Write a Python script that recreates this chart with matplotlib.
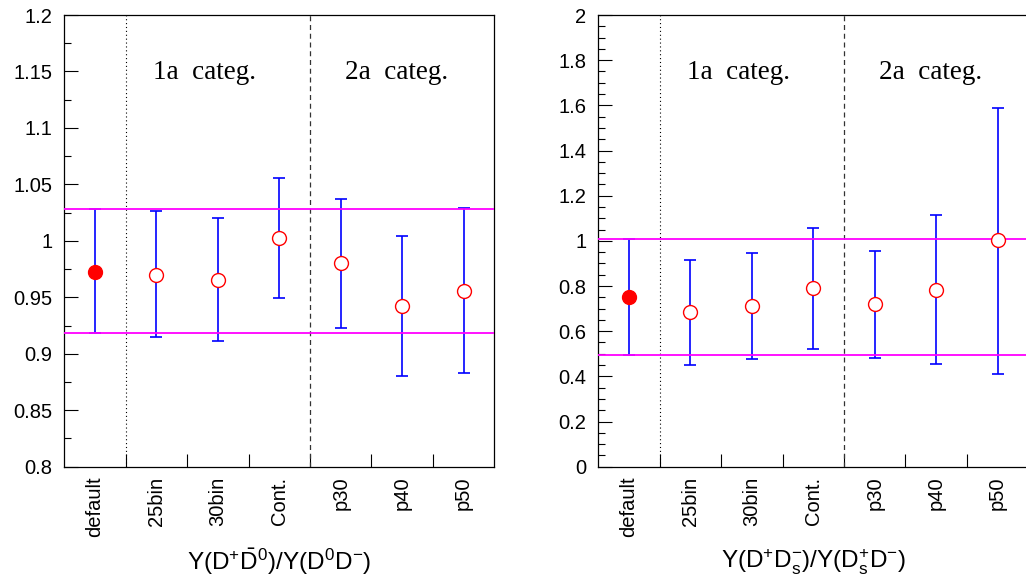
import matplotlib
matplotlib.use("Agg")
import matplotlib.pyplot as plt
from matplotlib.ticker import MultipleLocator, FuncFormatter, FixedLocator, NullFormatter

# ----------------------------- data ------------------------------------------
categories = ["default", "25bin", "30bin", "Cont.", "p30", "p40", "p50"]

# left: Y(D+ D0bar)/Y(D0 D-)
left_val = [0.9725, 0.970, 0.965, 1.0025, 0.980, 0.942, 0.956]
left_hi  = [1.028, 1.026, 1.020, 1.0555, 1.037, 1.004, 1.029]
left_lo  = [0.918, 0.915, 0.911, 0.949, 0.923, 0.880, 0.883]
left_band = [0.918, 1.028]

# right: Y(D+ Ds-)/Y(Ds+ D-)
right_val = [0.750, 0.686, 0.711, 0.790, 0.721, 0.783, 1.002]
right_hi  = [1.006, 0.917, 0.948, 1.057, 0.955, 1.113, 1.589]
right_lo  = [0.495, 0.451, 0.476, 0.520, 0.482, 0.453, 0.411]
right_band = [0.495, 1.006]

plt.rcParams["font.family"] = ["Liberation Sans", "DejaVu Sans"]
plt.rcParams["mathtext.fontset"] = "custom"
plt.rcParams["mathtext.rm"] = "Liberation Sans"
plt.rcParams["mathtext.it"] = "Liberation Sans:italic"

fig = plt.figure(figsize=(10.26, 5.83), dpi=100)
W, H = 1026.0, 583.0
# axes boxes in pixels: top 15, bottom 466.7
ax_l = fig.add_axes([64.3 / W, 116.3 / H, 430 / W, 451.7 / H])
ax_r = fig.add_axes([598.3 / W, 116.3 / H, 430 / W, 451.7 / H])


def fmt(v, _):
    return "{:g}".format(round(v, 4))


def panel(ax, val, hi, lo, band, ylim, major, minor, xlabel):
    n = len(categories)
    x = [i + 0.5 for i in range(n)]
    yerr = [[v - l for v, l in zip(val, lo)], [h - v for v, h in zip(val, hi)]]
    ax.errorbar(x, val, yerr=yerr, fmt="none", ecolor="#0000ff", elinewidth=1.2,
                capsize=4.6, capthick=1.2, zorder=2)
    for b in band:
        ax.axhline(b, color="#ff00ff", lw=1.3, zorder=3)
    ax.plot(x[0], val[0], "o", color="#ff0000", ms=10, zorder=4)
    ax.plot(x[1:], val[1:], "o", mfc="white", mec="#ff0000", mew=1.0, ms=10,
            ls="none", zorder=4)
    ax.axvline(1, color="black", ls=(0, (1, 2.5)), lw=0.8)
    ax.axvline(4, color="#333333", ls=(0, (4, 3)), lw=0.9)

    ax.set_xlim(0, n)
    ax.set_ylim(*ylim)
    ax.yaxis.set_major_locator(MultipleLocator(major))
    ax.yaxis.set_minor_locator(MultipleLocator(minor))
    ax.yaxis.set_major_formatter(FuncFormatter(fmt))
    ax.tick_params(axis="y", which="major", direction="in", length=10, width=0.8,
                   labelsize=14.5, pad=8.5, right=False)
    ax.tick_params(axis="y", which="minor", direction="in", length=5, width=0.8,
                   right=False)

    ax.xaxis.set_major_locator(FixedLocator([1, 2, 3, 4, 5, 6]))
    ax.xaxis.set_major_formatter(NullFormatter())
    ax.xaxis.set_minor_locator(FixedLocator(x))
    ax.set_xticklabels(categories, minor=True, rotation=90)
    ax.tick_params(axis="x", which="major", direction="in", length=9.5, width=0.8,
                   top=False)
    ax.tick_params(axis="x", which="minor", length=0, labelsize=14.5, pad=7, top=False)

    for s in ax.spines.values():
        s.set_linewidth(0.9)

    ax.text(2.28, 0.872, "1a  categ.", transform=ax.get_xaxis_transform(),
            family=["Liberation Serif", "DejaVu Serif"], fontsize=19.5,
            ha="center", va="center")
    ax.text(5.41, 0.872, "2a  categ.", transform=ax.get_xaxis_transform(),
            family=["Liberation Serif", "DejaVu Serif"], fontsize=19.5,
            ha="center", va="center")

    ax.set_xlabel(xlabel, fontsize=17.5)
    ax.xaxis.set_label_coords(0.5, -0.211)
    ax.xaxis.label.set_verticalalignment("center")


panel(ax_l, left_val, left_hi, left_lo, left_band, (0.8, 1.2), 0.05, 0.025,
      r"Y(D$^{+}\bar{\mathrm{D}}^{0}$)/Y(D$^{0}$D$^{-}$)")
panel(ax_r, right_val, right_hi, right_lo, right_band, (0, 2), 0.2, 0.05,
      r"Y(D$^{+}$D$_{\mathrm{s}}^{-}$)/Y(D$_{\mathrm{s}}^{+}$D$^{-}$)")

fig.savefig("out.png", dpi=100)
